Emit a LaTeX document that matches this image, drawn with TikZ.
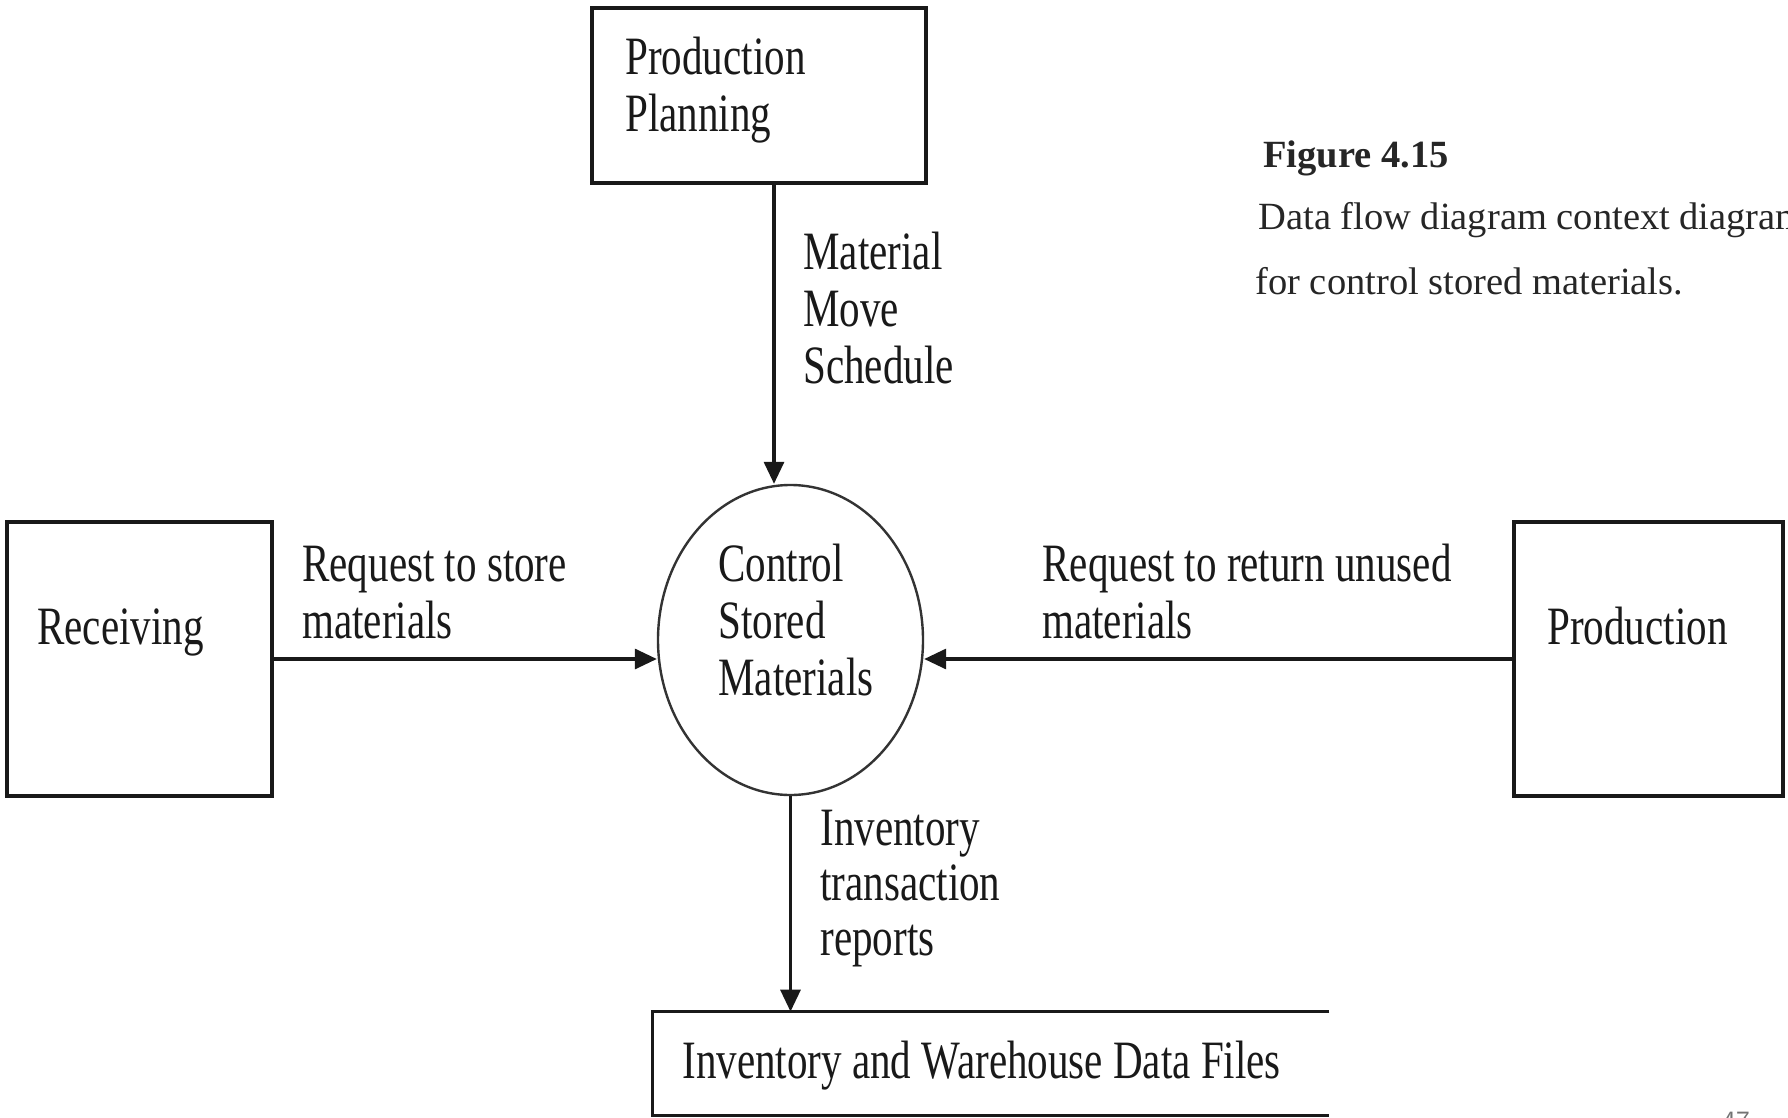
\documentclass[tikz,border=0pt]{standalone}
\usepackage{fontspec}
\setmainfont{Liberation Serif}
\newfontfamily\dfdfont[FakeStretch=0.76]{Liberation Serif}
\usetikzlibrary{arrows.meta, positioning, shapes}

\begin{document}
\begin{tikzpicture}[x=0.5pt, y=-0.5pt,
  entity/.style={draw=black!90, line width=1.6pt, inner sep=0pt},
  txt/.style={font=\dfdfont\fontsize{27pt}{28.5pt}\selectfont, anchor=base west, inner sep=0pt, align=left, text=black!90},
  flow/.style={line width=1.6pt, draw=black!90, -{Triangle[length=11pt, width=10pt]}},
  caption/.style={font=\fontsize{19.25pt}{24pt}\selectfont, anchor=base west, inner sep=0pt, text=black!85}]
			\useasboundingbox (0,0) rectangle (1788,1118);
			\fill[white] (0,0) rectangle (1788,1118);
			% entities and process
			\node[entity, minimum width=167pt, minimum height=87.5pt] (planning) at (759,95.5) {};
			\node[entity, minimum width=132.5pt, minimum height=137pt] (receiving) at (139.5,659) {};
			\node[entity, minimum width=134.5pt, minimum height=137pt] (production) at (1648.5,659) {};
			\node[draw=black!80, ellipse, line width=1.2pt, minimum width=132.5pt, minimum height=155pt, inner sep=0pt] (ctrl) at (790.5,640) {};
			\node[minimum width=338pt, minimum height=51.5pt, inner sep=0pt] (store) at (991,1063.5) {};
			\draw[line width=1.6pt, black!90] (store.north east) -- (store.north west) -- (store.south west) -- (store.south east);
			% texts (base = last line)
			\node[txt] (planningtxt) at (625,132) {Production\\Planning};
			\node[txt] (receivingtxt) at (37,644) {Receiving};
			\node[txt] (productiontxt) at (1547,644) {Production};
			\node[txt] (ctrltxt) at (718,695) {Control\\Stored\\Materials};
			\node[txt] (storetxt) at (682,1078) {Inventory and Warehouse Data Files};
			% flows
			\draw[flow] ([xshift=7.5pt]planning.south) -- ([xshift=7.5pt]planning.south |- ctrl.north);
			\draw[flow] (receiving.east) -- (receiving.east -| ctrl.west);
			\draw[flow] (production.west) -- (production.west -| ctrl.east);
			\draw[flow] (ctrl.south) -- (ctrl.south |- store.north);
			\node[txt] (schedule) at (803,383) {Material\\Move\\Schedule};
			\node[txt] (storereq) at (302,638) {Request to store\\materials};
			\node[txt] (returnreq) at (1042,638) {Request to return unused\\materials};
			\node[txt, font=\dfdfont\fontsize{27pt}{27.5pt}\selectfont] (reports) at (820,955) {Inventory\\transaction\\reports};
			% caption
			\node[caption, font=\bfseries\fontsize{19.25pt}{24pt}\selectfont] (fig) at (1263,168) {Figure 4.15};
			\node[caption] (cap1) at (1258,230) {Data flow diagram context diagram};
			\node[caption] (cap2) at (1255,294) {for control stored materials.};
			\node[anchor=north west, inner sep=0pt, text=black!55, font=\sffamily\fontsize{14pt}{16pt}\selectfont] (page) at (1722,1112) {47};
		\end{tikzpicture}
\end{document}
